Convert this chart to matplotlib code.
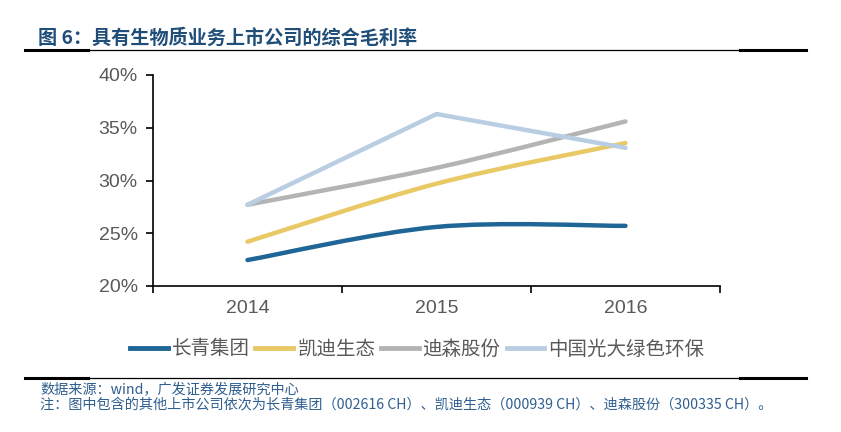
import matplotlib
matplotlib.use('Agg')
import matplotlib.pyplot as plt
import numpy as np
from matplotlib.path import Path
from matplotlib.patches import PathPatch
from matplotlib.lines import Line2D
from matplotlib.ticker import FuncFormatter

plt.rcParams['font.family'] = ['Liberation Sans', 'Noto Sans CJK SC', 'DejaVu Sans']

# === data ===
years = ['2014', '2015', '2016']
changqing = [22.46, 25.6, 25.7]      # 长青集团
kaidi = [24.2, 29.7, 33.55]          # 凯迪生态
disen = [27.7, 31.2, 35.6]           # 迪森股份
everbright = [27.7, 36.3, 33.1]      # 中国光大绿色环保
names = ['长青集团', '凯迪生态', '迪森股份', '中国光大绿色环保']
y_ticks = [20, 25, 30, 35, 40]

colors = ['#1f6596', '#e9c965', '#b4b4b4', '#b9cde3']
CJK = ['Noto Sans CJK SC', 'DejaVu Sans']


def smooth_path(xs, ys):
    # Excel-style smoothed line as cubic bezier segments
    pts = np.column_stack([xs, ys]).astype(float)
    n = len(pts)
    verts = [pts[0]]
    codes = [Path.MOVETO]
    for i in range(n - 1):
        p_prev = pts[max(i - 1, 0)]
        p0 = pts[i]
        p1 = pts[i + 1]
        p_next = pts[min(i + 2, n - 1)]
        c1 = p0 + (p1 - p_prev) / 6.0
        c2 = p1 - (p_next - p0) / 6.0
        verts += [c1, c2, p1]
        codes += [Path.CURVE4] * 3
    return Path(verts, codes)


fig = plt.figure(figsize=(8.41, 4.32), dpi=100)
ax = fig.add_axes([153 / 841, 1 - 286 / 432, (720 - 153) / 841, (286 - 75) / 432])

x = np.arange(len(years))
for vals, c in zip([changqing, kaidi, disen], colors[:3]):
    patch = PathPatch(smooth_path(x, vals), fill=False, edgecolor=c, lw=3.2,
                      capstyle='round', joinstyle='round')
    ax.add_patch(patch)
ax.plot(x, everbright, color=colors[3], lw=3.2, solid_capstyle='round')

ax.set_xlim(-0.5, 2.5)
ax.set_ylim(20, 40)
ax.set_yticks(y_ticks)
ax.yaxis.set_major_formatter(FuncFormatter(lambda v, p: f'{v:.0f}%'))
ax.set_xticks(x)
ax.set_xticklabels(years)
ax.set_xticks([-0.5, 0.5, 1.5, 2.5], minor=True)
ax.tick_params(axis='x', which='major', length=0, pad=10, labelsize=14, colors='#595959')
ax.tick_params(axis='x', which='minor', length=5, width=1.2, direction='out', color='black')
ax.tick_params(axis='y', length=5, width=1.2, direction='out', labelsize=14,
               labelcolor='#595959', pad=6)
for s in ['top', 'right']:
    ax.spines[s].set_visible(False)
for s in ['left', 'bottom']:
    ax.spines[s].set_linewidth(1.2)

handles = [Line2D([], [], color=c, lw=3.5) for c in colors]
leg = fig.legend(handles, names, loc='center', bbox_to_anchor=(417 / 841, 1 - 349 / 432),
                 ncol=4, frameon=False, handlelength=1.95, handletextpad=0.2,
                 columnspacing=0.3, prop={'family': CJK, 'size': 14})
for t in leg.get_texts():
    t.set_color('#595959')

# title and rules
fig.text(38 / 841, 1 - 38 / 432, '图 6：具有生物质业务上市公司的综合毛利率', family=CJK,
         fontsize=13.8, fontweight='bold', color='#1f4e79', va='center', ha='left')

for yy in [50, 378]:
    fy = 1 - yy / 432
    fig.add_artist(Line2D([25 / 841, 88 / 841], [fy, fy], color='black', lw=2.2))
    fig.add_artist(Line2D([88 / 841, 740 / 841], [fy, fy], color='black', lw=0.9))
    fig.add_artist(Line2D([740 / 841, 806 / 841], [fy, fy], color='black', lw=2.2))

note_color = '#2f5f8f'
fig.text(40 / 841, 1 - 390 / 432, '数据来源：wind，广发证券发展研究中心', family=CJK,
         fontsize=10.2, style='italic', color=note_color, va='center', ha='left')
fig.text(40 / 841, 1 - 405 / 432,
         '注：图中包含的其他上市公司依次为长青集团（002616 CH）、凯迪生态（000939 CH）、迪森股份（300335 CH）。',
         family=CJK, fontsize=10.2, style='italic', color=note_color, va='center', ha='left')

fig.savefig('out.png', dpi=100)
